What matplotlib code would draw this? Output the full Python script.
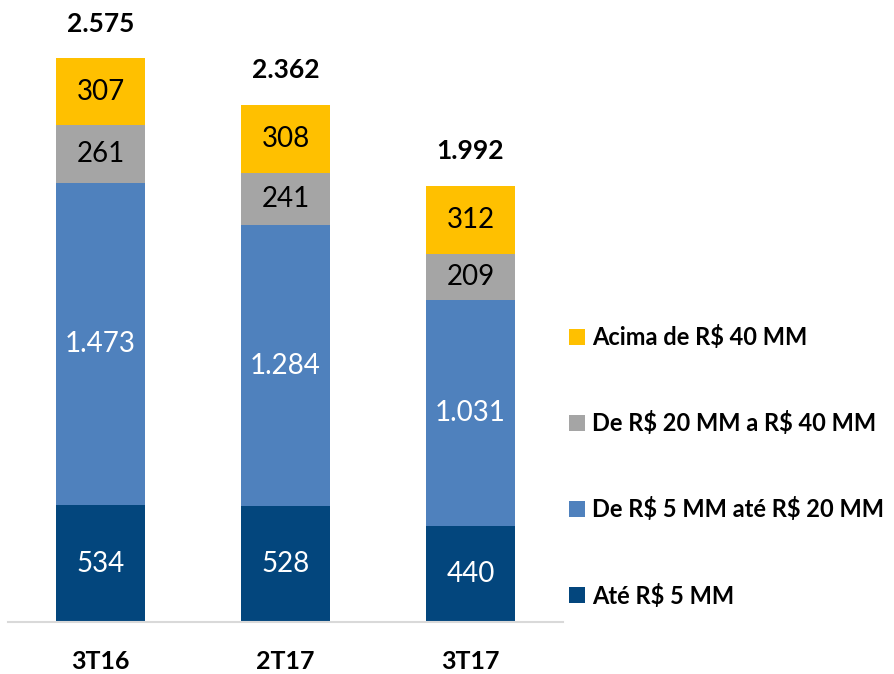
import numpy as np
import matplotlib
matplotlib.use("Agg")
import matplotlib.pyplot as plt

plt.rcParams["font.family"] = ["Lato", "DejaVu Sans"]
plt.rcParams["text.parse_math"] = False

categories = ["3T16", "2T17", "3T17"]
series_names = ["Até R$ 5 MM", "De R$ 5 MM até R$ 20 MM",
                "De R$ 20 MM a R$ 40 MM", "Acima de R$ 40 MM"]
ate_5 = [534, 528, 440]
de_5_20 = [1473, 1284, 1031]
de_20_40 = [261, 241, 209]
acima_40 = [307, 308, 312]
totals = [2575, 2362, 1992]

colors = ["#03467D", "#4F81BD", "#A5A5A5", "#FFC000"]
text_colors = ["white", "white", "black", "black"]


def fmt(v):
    return f"{v:,}".replace(",", ".")


fig = plt.figure(figsize=(8.94, 6.74), dpi=100)
ax = fig.add_axes([8 / 894, 52 / 674, 555 / 894, 613 / 674])

x = np.arange(len(categories))
w = 0.48
bottom = np.zeros(len(categories))
handles = []
for vals, name, col, tc in zip([ate_5, de_5_20, de_20_40, acima_40],
                               series_names, colors, text_colors):
    bars = ax.bar(x, vals, w, bottom=bottom, color=col, label=name)
    handles.append(bars)
    for xi, b, v in zip(x, bottom, vals):
        ax.text(xi, b + v / 2, fmt(v), ha="center", va="center",
                color=tc, fontsize=20)
    bottom = bottom + np.array(vals)

for xi, t in zip(x, totals):
    ax.annotate(fmt(t), (xi, t), xytext=(0, 25), textcoords="offset points",
                ha="center", va="center", fontsize=19, fontweight="bold")

ax.set_xlim(-0.5, 2.5)
ax.set_ylim(0, 2800)
ax.set_xticks(x)
ax.set_xticklabels(categories, fontsize=18, fontweight="bold")
ax.tick_params(axis="x", length=0, pad=20)
ax.set_yticks([])
for s in ["top", "right", "left"]:
    ax.spines[s].set_visible(False)
ax.spines["bottom"].set_color("#D9D9D9")
ax.spines["bottom"].set_linewidth(1.5)

fig.legend(handles[::-1], series_names[::-1], loc="upper left",
           bbox_to_anchor=(548 / 894, 1 - 304 / 674), frameon=False,
           prop={"size": 17, "weight": "bold"}, handlelength=0.65,
           handleheight=0.65, handletextpad=0.3, labelspacing=2.63)

fig.savefig("out.png", dpi=100)
